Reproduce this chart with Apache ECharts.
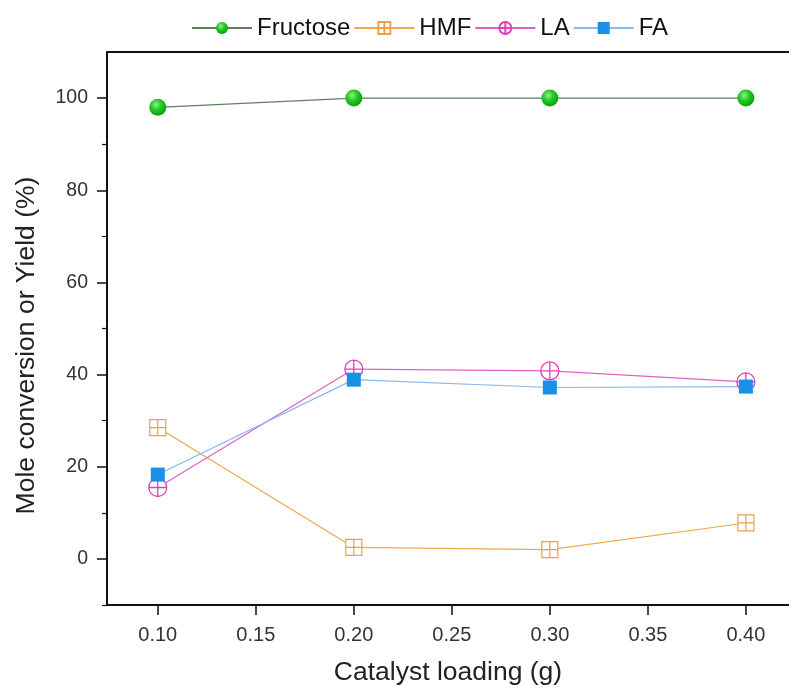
<!DOCTYPE html>
<html lang="en">
<head>
  <meta charset="UTF-8">
  <title>Catalyst loading vs conversion / yield</title>
  <script src="https://cdn.jsdelivr.net/npm/echarts@6.0.0/dist/echarts.min.js"></script>
  <style>
    html, body { margin: 0; padding: 0; background: #fff; }
  </style>
</head>
<body>
  <div id="main" style="width: 789px; height: 691px;"></div>

  <script>
    // values
    const loading = [0.10, 0.20, 0.30, 0.40];
    const fructose = [98, 100, 100, 100];
    const hmf = [28.5, 2.5, 2.0, 7.8];
    const la = [15.5, 41.2, 40.8, 38.4];
    const fa = [18.3, 38.9, 37.2, 37.4];

    const xTicks = [0.10, 0.15, 0.20, 0.25, 0.30, 0.35, 0.40];
    const yTicks = [0, 20, 40, 60, 80, 100];
    const yMinorTicks = [-10, 10, 30, 50, 70, 90];

    const pair = arr => loading.map((x, i) => [x, arr[i]]);

    // circle / square with a plus inside
    const circlePlus = 'path://M0,-10A10,10 0 1,1 0,10A10,10 0 1,1 0,-10ZM-10,0L10,0M0,-10L0,10';
    const squarePlus = 'path://M-10,-10L10,-10L10,10L-10,10ZM-10,0L10,0M0,-10L0,10';

    const font = 'Liberation Sans, Arial, sans-serif';
    const axisColor = '#111';

    const myChart = echarts.init(document.getElementById('main'));

    const options = {
      animation: false,
      backgroundColor: '#fff',
      textStyle: { fontFamily: font },
      legend: {
        top: 11,
        left: 186,
        itemWidth: 60,
        itemHeight: 15,
        itemGap: 3,
        textStyle: { fontSize: 24, color: '#111', fontFamily: font },
        data: ['Fructose', 'HMF', 'LA', 'FA']
      },
      grid: { left: 107, right: 0, top: 52, bottom: 86 },
      xAxis: [{
        type: 'value',
        min: 0.0741,
        max: 0.422,
        name: 'Catalyst loading (g)',
        nameLocation: 'middle',
        nameGap: 54,
        nameTextStyle: { fontSize: 26.5, color: '#222', fontFamily: font },
        axisLine: { show: true, onZero: false, lineStyle: { color: axisColor, width: 2 } },
        axisTick: { show: true, inside: false, length: 10, customValues: xTicks, lineStyle: { color: axisColor, width: 1.5 } },
        axisLabel: {
          customValues: xTicks, fontSize: 20, color: '#333', margin: 20,
          formatter: v => v.toFixed(2)
        },
        splitLine: { show: false }
      }, {
        type: 'value',
        position: 'top',
        min: 0.0741,
        max: 0.422,
        axisLine: { show: true, onZero: false, lineStyle: { color: axisColor, width: 2 } },
        axisTick: { show: false },
        axisLabel: { show: false },
        splitLine: { show: false }
      }],
      yAxis: [{
        type: 'value',
        min: -10,
        max: 110,
        name: 'Mole conversion or Yield (%)',
        nameLocation: 'middle',
        nameGap: 67,
        nameTextStyle: { fontSize: 26.5, color: '#222', fontFamily: font, padding: [0, 34, 0, 0] },
        axisLine: { show: true, onZero: false, lineStyle: { color: axisColor, width: 2 } },
        axisTick: { show: true, inside: false, length: 10, customValues: yTicks, lineStyle: { color: axisColor, width: 1.5 } },
        axisLabel: { customValues: yTicks, fontSize: 19.5, color: '#333', margin: 19 },
        splitLine: { show: false }
      }, {
        type: 'value',
        position: 'left',
        min: -10,
        max: 110,
        axisLine: { show: false },
        axisTick: { show: true, inside: false, length: 5, customValues: yMinorTicks, lineStyle: { color: axisColor, width: 1.2 } },
        axisLabel: { show: false },
        splitLine: { show: false }
      }],
      series: [{
        name: 'Fructose',
        type: 'line',
        data: pair(fructose),
        symbol: 'circle',
        symbolSize: 17,
        lineStyle: { color: '#5f7f5f', width: 1.2 },
        itemStyle: {
          color: {
            type: 'radial', x: 0.4, y: 0.35, r: 0.65,
            colorStops: [{ offset: 0, color: '#8ff08f' }, { offset: 0.5, color: '#22c822' }, { offset: 1, color: '#0c9e0c' }]
          },
          borderWidth: 0
        }
      }, {
        name: 'HMF',
        type: 'line',
        data: pair(hmf),
        symbol: squarePlus,
        symbolSize: 16,
        lineStyle: { color: '#f2a84a', width: 1.2 },
        itemStyle: { color: '#fff', borderColor: '#eea04a', borderWidth: 1.2 }
      }, {
        name: 'LA',
        type: 'line',
        data: pair(la),
        symbol: circlePlus,
        symbolSize: 18,
        lineStyle: { color: '#e060c8', width: 1.2 },
        itemStyle: { color: '#fff', borderColor: '#e040b8', borderWidth: 1.3 }
      }, {
        name: 'FA',
        type: 'line',
        data: pair(fa),
        symbol: 'rect',
        symbolSize: 14,
        lineStyle: { color: '#8ab8ee', width: 1.2 },
        itemStyle: { color: '#1a8fe6' }
      }]
    };

    myChart.setOption(options);
  </script>
</body>
</html>
